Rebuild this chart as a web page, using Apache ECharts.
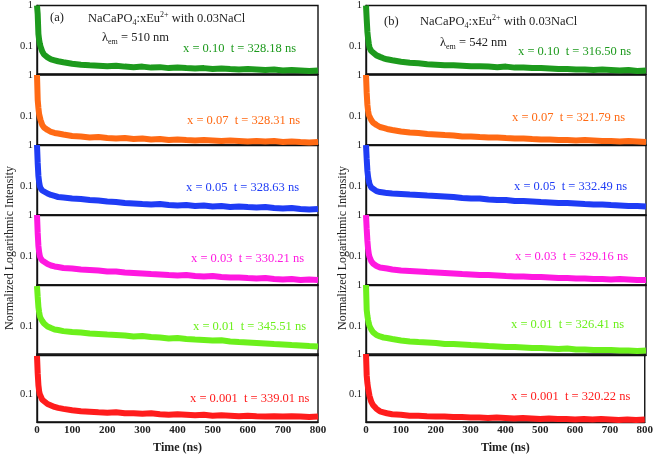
<!DOCTYPE html>
<html><head><meta charset="utf-8">
<script src="https://cdn.jsdelivr.net/npm/echarts@6/dist/echarts.min.js"></script>
<style>html,body{margin:0;padding:0;background:#fff}#c{width:656px;height:455px}</style>
</head><body><div id="c"></div>
<script>
// time axis (ns)
const times = [0,2,4,6,8,10,15,20,30,40,50,60,75,100,125,150,175,200,225,250,275,300,325,350,375,400,425,450,475,500,525,550,575,600,625,650,675,700,725,750,775,800];
const xTicks = [0,100,200,300,400,500,600,700,800];
const yTickLabels = [0.1, 1];

const dopings = ['0.10','0.07','0.05','0.03','0.01','0.001'];
const lifetimesA = ['328.18','328.31','328.63','330.21','345.51','339.01'];
const lifetimesB = ['316.50','321.79','332.49','329.16','326.41','320.22'];

// (a) lambda_em = 510 nm
const a010 = [1,0.605,0.198,0.141,0.113,0.096,0.072,0.061,0.0518,0.0463,0.0438,0.0414,0.0392,0.036,0.0341,0.0331,0.0322,0.0313,0.0322,0.0305,0.0296,0.0305,0.0288,0.0296,0.028,0.0288,0.028,0.0273,0.028,0.0265,0.0273,0.0265,0.0258,0.0265,0.0258,0.0251,0.0258,0.0244,0.0251,0.0244,0.0237,0.0244];
const a007 = [1,0.247,0.158,0.113,0.096,0.081,0.061,0.0532,0.0463,0.0414,0.0392,0.0381,0.036,0.0331,0.0322,0.0305,0.0313,0.0296,0.0288,0.0296,0.028,0.0288,0.0273,0.028,0.0265,0.0273,0.0265,0.0258,0.0265,0.0258,0.0251,0.0258,0.0251,0.0244,0.0251,0.0244,0.0251,0.0237,0.0244,0.0237,0.0231,0.0237];
const a005 = [1,0.366,0.177,0.126,0.101,0.09,0.0787,0.072,0.0665,0.0612,0.0579,0.0547,0.0532,0.0503,0.049,0.0463,0.045,0.0426,0.0414,0.0392,0.0381,0.037,0.036,0.037,0.035,0.0341,0.035,0.0331,0.0341,0.0322,0.0331,0.0313,0.0322,0.0313,0.0305,0.0313,0.0296,0.0288,0.0296,0.028,0.0273,0.028];
const a003 = [1,0.366,0.177,0.126,0.101,0.09,0.0787,0.072,0.0647,0.0595,0.0563,0.0547,0.0518,0.0503,0.0476,0.0463,0.045,0.0426,0.0426,0.0403,0.0392,0.0381,0.037,0.036,0.035,0.0341,0.035,0.0331,0.0322,0.0331,0.0313,0.0305,0.0305,0.0296,0.0288,0.0296,0.028,0.0273,0.028,0.0265,0.0273,0.0265];
const a001 = [0.946,0.511,0.292,0.221,0.177,0.158,0.134,0.116,0.0984,0.09,0.0832,0.081,0.076,0.072,0.0703,0.0665,0.0647,0.0629,0.0612,0.0595,0.0563,0.0575,0.0547,0.0532,0.0503,0.0515,0.049,0.0476,0.0463,0.045,0.0455,0.0426,0.0414,0.0403,0.0392,0.0381,0.037,0.036,0.035,0.0341,0.0331,0.0322];
const a0001 = [0.894,0.327,0.167,0.119,0.0984,0.0879,0.072,0.0647,0.0563,0.0518,0.0476,0.045,0.0426,0.0392,0.037,0.036,0.035,0.0341,0.035,0.0331,0.0331,0.0322,0.0331,0.0313,0.0305,0.0313,0.0305,0.0296,0.0305,0.0288,0.0296,0.0288,0.028,0.0288,0.028,0.0273,0.028,0.0273,0.028,0.0273,0.0265,0.0273];
// (b) lambda_em = 542 nm
const b010 = [1,0.457,0.221,0.150,0.113,0.090,0.0744,0.0665,0.0579,0.0532,0.049,0.0463,0.0438,0.0403,0.0381,0.037,0.035,0.0341,0.0331,0.0331,0.0322,0.0313,0.0313,0.0305,0.0296,0.0305,0.0288,0.0288,0.028,0.028,0.0273,0.0265,0.0265,0.0258,0.0258,0.0251,0.0258,0.0251,0.0244,0.0251,0.0237,0.0244];
const b007 = [1,0.366,0.187,0.134,0.107,0.096,0.081,0.0703,0.0612,0.0547,0.0518,0.049,0.0463,0.0426,0.0403,0.0392,0.037,0.036,0.035,0.0341,0.0322,0.0322,0.0313,0.0305,0.0305,0.0296,0.0288,0.0288,0.028,0.0273,0.0273,0.0265,0.0265,0.0258,0.0265,0.0258,0.0251,0.0251,0.0244,0.0251,0.0244,0.0237];
const b005 = [1,0.457,0.234,0.167,0.134,0.113,0.093,0.0832,0.076,0.072,0.0703,0.068,0.0665,0.0647,0.0629,0.0612,0.0595,0.0579,0.0563,0.0547,0.0518,0.0503,0.0503,0.0476,0.0463,0.0463,0.0438,0.0438,0.0426,0.0414,0.0403,0.0392,0.0392,0.0381,0.037,0.036,0.036,0.035,0.0341,0.0331,0.0331,0.0322];
const b003 = [1,0.457,0.234,0.150,0.113,0.096,0.076,0.0665,0.0579,0.0532,0.0518,0.0503,0.0476,0.045,0.0438,0.0426,0.0414,0.0403,0.0392,0.0381,0.037,0.036,0.035,0.035,0.0341,0.0331,0.0322,0.0322,0.0313,0.0313,0.0305,0.0296,0.0296,0.0288,0.0288,0.028,0.028,0.0273,0.028,0.0273,0.0265,0.0265];
const b001 = [1,0.247,0.177,0.141,0.116,0.101,0.0832,0.072,0.0612,0.0563,0.0532,0.0518,0.049,0.045,0.0426,0.0414,0.0403,0.0392,0.037,0.037,0.036,0.035,0.0341,0.0331,0.0322,0.0313,0.0313,0.0305,0.0296,0.0296,0.0288,0.028,0.0288,0.0273,0.0273,0.0265,0.0265,0.0265,0.0258,0.0258,0.0251,0.0258];
const b0001 = [1,0.292,0.187,0.141,0.113,0.090,0.0647,0.0532,0.0426,0.037,0.035,0.0331,0.0313,0.0305,0.0288,0.0288,0.028,0.0273,0.0273,0.0265,0.0265,0.0258,0.0258,0.0251,0.0258,0.0251,0.0244,0.0251,0.0244,0.0237,0.0244,0.0237,0.0237,0.0231,0.0237,0.0231,0.0237,0.0231,0.0225,0.0231,0.0225,0.0231];

const seriesA = [a010,a007,a005,a003,a001,a0001];
const seriesB = [b010,b007,b005,b003,b001,b0001];

// styling / layout
const colors = ['#1d9a1d','#ff6a14','#1f3cf5','#ff18e0','#6cf01c','#ff1c1c'];
const FONT = '"Liberation Serif","Times New Roman",serif';
const panelTops = [4,75,145,215,285,354];
const panelH = 70;
const cols = [{left:37,width:281},{left:366,width:280}];
const annA = [[183,49],[187,121],[186,188],[191,259],[193,327],[190,399]];
const annB = [[518,52],[512,118],[514,187],[515,257],[511,325],[511,397]];

const grids=[], xAxes=[], yAxes=[], series=[];
const colData=[seriesA,seriesB];
for (let c=0;c<2;c++){
  for (let p=0;p<6;p++){
    const gi = grids.length;
    grids.push({left:cols[c].left, width:cols[c].width, top:panelTops[p], height:panelH,
      show:true, borderColor:'#111', borderWidth:1.4, backgroundColor:'transparent'});
    const bottom = p===5;
    xAxes.push({type:'value', gridIndex:gi, min:0, max:800, interval:100,
      axisLine:{show:true, lineStyle:{color:'#111', width:1.4}},
      axisTick:{show:false}, splitLine:{show:false},
      axisLabel:{show:bottom, color:'#222', fontFamily:FONT, fontSize:11, fontWeight:'bold', margin:3,
        customValues: xTicks},
      name: bottom ? 'Time (ns)' : '', nameLocation:'middle', nameGap:20,
      nameTextStyle:{fontFamily:FONT, fontSize:12, fontWeight:'bold', color:'#222'}});
    const labs = (c===0 && p>=4) ? [0.1] : yTickLabels;
    yAxes.push({type:'log', logBase:10, gridIndex:gi, min:0.02, max:1,
      axisLine:{show:true, lineStyle:{color:'#111', width:1.4}},
      axisTick:{show:false}, splitLine:{show:false}, minorTick:{show:false},
      axisLabel:{show:true, color:'#222', fontFamily:FONT, fontSize:10.5, margin:4,
        customValues: labs, formatter: v => String(v)}});
    series.push({type:'line', xAxisIndex:gi, yAxisIndex:gi, showSymbol:false, symbol:'none',
      clip:true, animation:false, smooth:false,
      lineStyle:{color:colors[p], width:6}, itemStyle:{color:colors[p]},
      data: times.map((t,i)=>[t, colData[c][p][i]])});
  }
}

const graphics = [];
const mkText = (x,y,text,opts) => Object.assign({type:'text', x, y, z:100,
  style:Object.assign({text, fill:'#222', font:'12.5px '+FONT, textAlign:'left', textVerticalAlign:'middle'}, opts||{})});
for (let p=0;p<6;p++){
  graphics.push(mkText(annA[p][0], annA[p][1], 'x = '+dopings[p]+'  t = '+lifetimesA[p]+' ns', {fill:colors[p]}));
  graphics.push(mkText(annB[p][0], annB[p][1], 'x = '+dopings[p]+'  t = '+lifetimesB[p]+' ns', {fill:colors[p]}));
}
const rich = {
  n:{fontFamily:FONT, fontSize:12.5, fill:'#222', lineHeight:16, verticalAlign:'middle'},
  s:{fontFamily:FONT, fontSize:8, fill:'#222', lineHeight:16, verticalAlign:'bottom'},
  p:{fontFamily:FONT, fontSize:8, fill:'#222', lineHeight:16, verticalAlign:'top'}
};
const head = [
  {lab:'(a)', lx:50, ly:18, tx:88, ty:19, lam:'510', mx:102, my:38},
  {lab:'(b)', lx:384, ly:22, tx:420, ty:22, lam:'542', mx:440, my:43}
];
head.forEach(h=>{
  graphics.push(mkText(h.lx, h.ly, h.lab));
  graphics.push(mkText(h.tx, h.ty, '{n|NaCaPO}{s|4}{n|:xEu}{p|2+}{n| with 0.03NaCl}', {rich}));
  graphics.push(mkText(h.mx, h.my, '{n|λ}{s|em}{n| = '+h.lam+' nm}', {rich}));
});
[10,343].forEach(x=>{
  graphics.push({type:'text', x, y:248, rotation:Math.PI/2, z:100,
    style:{text:'Normalized Logarithmic Intensity', fill:'#222', font:'12px '+FONT, textAlign:'center', textVerticalAlign:'middle'}});
});

const chart = echarts.init(document.getElementById('c'), null, {renderer:'canvas'});
chart.setOption({animation:false, grid:grids, xAxis:xAxes, yAxis:yAxes, series, graphic:graphics});
</script>
</body></html>
